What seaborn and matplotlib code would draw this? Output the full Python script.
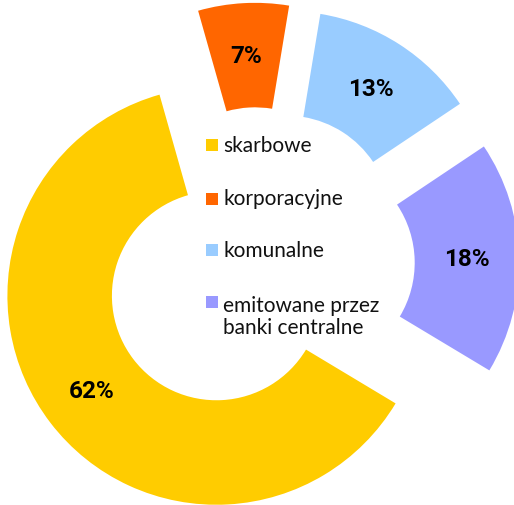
import matplotlib
matplotlib.use("Agg")
import matplotlib.pyplot as plt
import seaborn as sns

sns.set_theme(style="white")
plt.rcParams['font.family'] = ['Lato', 'DejaVu Sans']

# data
categories = ['skarbowe', 'korporacyjne', 'komunalne', 'emitowane przez\nbanki centralne']
shares = [62, 7, 13, 18]
colors = sns.color_palette(['#FFCC00', '#FF6600', '#99CCFF', '#9999FF'])

fig = plt.figure(figsize=(5.14, 5.06), dpi=100)
ax = fig.add_axes([0, 0, 1, 1])

wedges, texts, autotexts = ax.pie(
    shares, colors=colors, startangle=-31, counterclock=False,
    explode=[0.25] * len(shares), radius=1, pctdistance=0.75,
    autopct='%.0f%%', wedgeprops=dict(width=0.5, linewidth=0))

for t in autotexts:
    t.set_fontfamily(['Roboto', 'DejaVu Sans'])
    t.set_fontweight('bold')
    t.set_fontsize(17.5)
    t.set_color('black')

ax.set_xlim(-1.234, 1.225)
ax.set_ylim(-1.153, 1.268)
ax.set_aspect('auto')
ax.axis('off')

# legend drawn in the middle of the donut (baseline of each label's first line)
baselines = [0.541, 0.285, 0.038, -0.211]
line_step = 0.12
for cat, col, yb in zip(categories, colors, baselines):
    ax.scatter([-0.222], [yb + 0.027], marker='s', s=70, color=col, linewidths=0)
    n_extra = cat.count('\n')
    ax.text(-0.167, yb - n_extra * line_step, cat, fontsize=15, va='baseline',
            ha='left', color='#111111', linespacing=1.15)

fig.savefig('out.png', dpi=100)
